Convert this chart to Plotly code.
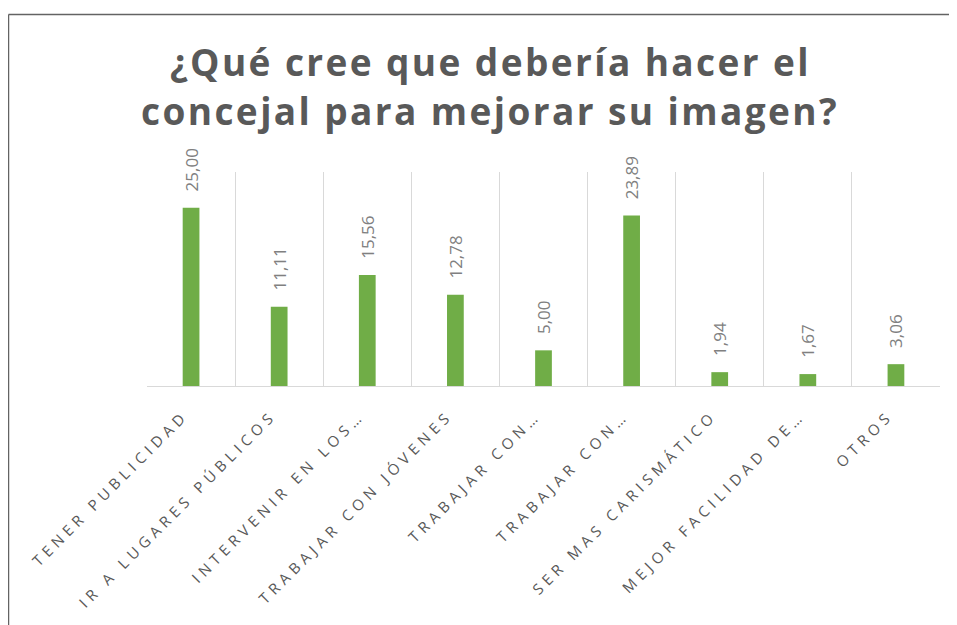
import plotly.graph_objects as go

categories = [
    "TENER PUBLICIDAD",
    "IR A LUGARES PÚBLICOS",
    "INTERVENIR EN LOS…",
    "TRABAJAR CON JÓVENES",
    "TRABAJAR CON…",
    "TRABAJAR CON…",
    "SER MAS CARISMÁTICO",
    "MEJOR FACILIDAD DE…",
    "OTROS",
]
values = [25.00, 11.11, 15.56, 12.78, 5.00, 23.89, 1.94, 1.67, 3.06]
title_lines = ["¿Qué cree que debería hacer el", "concejal para mejorar su imagen?"]

# unique keys (two categories share the same truncated label)
cat_keys = [f"c{i}" for i in range(len(categories))]

# page body has an 8px margin, so the figure is drawn 8px right/down
W, H = 949, 617
L, T = 139, 164
PR, PB = 932, 378          # plot right / bottom in figure px
R, B = W - PR, H - PB
pw, ph = PR - L, PB - T


def px_x(x):
    return (x - L) / pw


def px_y(y):
    return (PB - y) / ph


fig = go.Figure()
fig.add_trace(go.Bar(
    x=cat_keys, y=values,
    marker=dict(color="#70AD47", line=dict(width=0)),
    texttemplate="\u00a0\u00a0\u00a0%{y:.2f}",
    textposition="outside",
    textangle=-90,
    constraintext="none",
    textfont=dict(family="Open Sans", size=17, color="#808080"),
    cliponaxis=False,
    hoverinfo="skip",
))

tick_text = [f'<span style="letter-spacing:4.8px">{c}</span>' for c in categories]

annotations = []
for txt, yc in zip(title_lines, [53, 102]):
    annotations.append(dict(
        text=f'<span style="letter-spacing:2.4px">{txt}</span>',
        xref="paper", yref="paper",
        x=px_x(482), y=px_y(yc), xanchor="center", yanchor="middle",
        showarrow=False,
        font=dict(family="Open Sans", size=37, color="#595959", weight="bold"),
    ))

fig.update_layout(
    width=W, height=H,
    margin=dict(l=L, r=R, t=T, b=B, autoexpand=False),
    paper_bgcolor="white", plot_bgcolor="white",
    separators=",.",
    showlegend=False,
    bargap=0.81,
    annotations=annotations,
    xaxis=dict(
        type="category",
        tickmode="array", tickvals=cat_keys, ticktext=tick_text,
        tickangle=-45,
        tickson="boundaries",
        ticks="",
        ticklabelstandoff=14,
        ticklabelshift=-7,
        showgrid=True, gridcolor="#D9D9D9", gridwidth=1,
        showline=True, linecolor="#D9D9D9", linewidth=1,
        tickfont=dict(family="Open Sans", size=15, color="#595959"),
        fixedrange=True,
    ),
    yaxis=dict(
        range=[0, 30],
        visible=False,
        showgrid=False,
        zeroline=False,
        fixedrange=True,
    ),
    shapes=[
        dict(type="line", xref="paper", yref="paper",
             x0=px_x(0.5), x1=px_x(W + 5),
             y0=px_y(6.5), y1=px_y(6.5),
             line=dict(color="#636363", width=1.5)),
        dict(type="line", xref="paper", yref="paper",
             x0=px_x(0.5), x1=px_x(0.5),
             y0=px_y(6.5), y1=px_y(H + 5),
             line=dict(color="#636363", width=1.5)),
    ],
)

fig.write_html("out.html")
